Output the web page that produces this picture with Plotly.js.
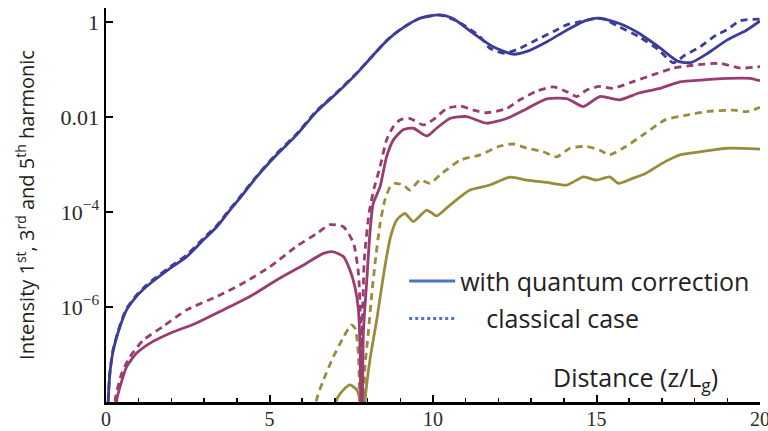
<!DOCTYPE html>
<html><head><meta charset="utf-8">
<script src="https://cdn.plot.ly/plotly-3.0.1.min.js"></script>
<style>html,body{margin:0;padding:0;background:#fff}#chart{width:768px;height:431px}</style>
</head><body><div id="chart"></div>
<script>
// 1st harmonic, with quantum correction
const z1q = [0,0.07,0.12,0.22,0.43,0.63,0.94,1.24,1.55,1.96,2.47,2.98,3.39,3.79,4.05,4.61,5.22,5.83,6.44,7.06,7.67,8.17,8.58,8.99,9.6,10.21,10.6,11.23,11.84,12.45,12.87,13.5,14.1,14.7,15.1,15.7,16.3,16.9,17.5,17.9,18.4,19.0,19.6,20];
const i1q = [1e-10,1.1e-8,4.0e-8,1.2e-7,3.9e-7,8.7e-7,1.7e-6,2.7e-6,4.0e-6,6.5e-6,1.15e-5,2.6e-5,4.9e-5,1.1e-4,1.8e-4,5.5e-4,1.6e-3,4.2e-3,1.3e-2,3.2e-2,8.3e-2,0.2,0.4,0.68,1.2,1.41,1.2,0.58,0.3,0.21,0.24,0.39,0.68,1.1,1.2,0.93,0.58,0.3,0.148,0.141,0.22,0.42,0.68,1.05];
// 1st harmonic, classical
const z1c = [0,0.07,0.12,0.22,0.43,0.63,0.94,1.24,1.55,1.96,2.47,2.98,3.39,3.79,4.05,4.61,5.22,5.83,6.44,7.06,7.67,8.17,8.58,8.99,9.6,10.21,10.6,11.03,11.44,11.74,12.2,12.66,13.07,13.68,14.09,14.5,14.9,15.2,15.7,16.3,16.9,17.35,17.7,18.17,18.67,18.98,19.4,20];
const i1c = [1e-10,1.2e-8,4.3e-8,1.3e-7,4.2e-7,9.3e-7,1.8e-6,2.9e-6,4.3e-6,7.0e-6,1.25e-5,2.8e-5,5.2e-5,1.15e-4,1.9e-4,5.7e-4,1.7e-3,4.4e-3,1.35e-2,3.3e-2,8.5e-2,0.2,0.41,0.69,1.2,1.4,1.15,0.79,0.49,0.28,0.22,0.28,0.39,0.63,0.87,1.02,1.15,1.17,0.79,0.49,0.26,0.138,0.2,0.3,0.54,0.68,1.07,1.15];
// 3rd harmonic, with quantum correction
const z3q = [0.3,0.33,0.43,0.63,0.94,1.35,1.96,2.77,3.59,4.4,5.22,6.03,6.65,6.95,7.26,7.46,7.61,7.72,7.77,7.82,7.87,7.97,8.07,8.17,8.38,8.58,8.79,9.09,9.4,9.81,10.11,10.52,11.03,11.64,12.25,12.87,13.48,14.09,14.6,15.1,15.7,16.3,16.94,17.55,18.2,19.0,19.7,20];
const i3q = [1e-9,1.1e-8,2.1e-8,5.5e-8,1.07e-7,1.74e-7,2.8e-7,4.6e-7,8.7e-7,1.66e-6,3.7e-6,7.6e-6,1.35e-5,1.45e-5,1.15e-5,6.0e-6,2.7e-6,8.7e-7,1.2e-7,1e-10,2.8e-7,3.2e-6,3.5e-5,1.5e-4,3.4e-4,1.45e-3,3.3e-3,5.4e-3,5.8e-3,4.0e-3,5.8e-3,9.3e-3,1.02e-2,7.4e-3,9.3e-3,1.5e-2,2.4e-2,2.45e-2,1.66e-2,2.7e-2,2.3e-2,3.2e-2,4.0e-2,5.5e-2,6.0e-2,6.5e-2,6.5e-2,5.8e-2];
// 3rd harmonic, classical
const z3c = [0.25,0.28,0.48,0.73,1.14,1.75,2.47,3.39,4.2,5.02,5.83,6.44,6.85,7.26,7.57,7.72,7.78,7.81,7.9,8.05,8.2,8.38,8.58,8.79,8.99,9.3,9.7,10.0,10.42,10.83,11.23,11.64,12.25,12.66,13.17,13.68,14.09,14.4,14.7,15.1,15.5,16.1,16.7,17.35,17.96,18.78,19.4,20];
const i3c = [1e-9,1.1e-8,4.0e-8,8.9e-8,2.0e-7,3.9e-7,8.7e-7,1.66e-6,3.2e-6,7.1e-6,1.9e-5,3.5e-5,5.4e-5,4.9e-5,2.2e-5,5.1e-6,6.3e-7,1e-7,1e-5,1e-4,3.2e-4,8.9e-4,3.3e-3,6.3e-3,8.7e-3,9.3e-3,6.8e-3,8.7e-3,1.5e-2,1.7e-2,1.4e-2,1.23e-2,1.5e-2,2.3e-2,3.5e-2,4.3e-2,3.4e-2,2.7e-2,3.7e-2,4.4e-2,4.0e-2,5.5e-2,7.6e-2,0.107,0.123,0.135,0.107,0.115];
// 5th harmonic, with quantum correction
const z5q = [7.0,7.05,7.26,7.46,7.67,7.77,7.8,7.88,7.92,8.07,8.28,8.48,8.69,8.89,9.14,9.4,9.81,10.11,10.52,11.13,11.74,12.35,12.87,13.48,14.09,14.6,15.0,15.4,15.67,16.1,16.5,17.1,17.55,18.2,19.0,20];
const i5q = [1e-9,1.1e-8,1.8e-8,2.3e-8,1.8e-8,1e-8,1e-10,1e-10,1e-8,7.6e-8,5.4e-7,4.4e-6,2.8e-5,6.8e-5,9.3e-5,6.3e-5,1.1e-4,8.3e-5,1.4e-4,2.9e-4,3.7e-4,5.4e-4,4.7e-4,4.2e-4,3.7e-4,5.5e-4,4.7e-4,5.5e-4,4.0e-4,5.1e-4,6.5e-4,1.15e-3,1.6e-3,1.86e-3,2.2e-3,2.1e-3];
// 5th harmonic, classical
const z5c = [6.4,6.44,6.65,6.95,7.26,7.51,7.62,7.72,7.8,7.92,8.02,8.12,8.23,8.38,8.53,8.69,8.84,9.09,9.3,9.6,9.91,10.21,10.83,11.44,12.05,12.46,12.87,13.37,13.78,14.19,14.7,15.1,15.4,15.9,16.5,17.1,17.76,18.37,19.2,19.6,20];
const i5c = [1e-9,1.1e-8,2.9e-8,8.9e-8,2.3e-7,4.2e-7,3.5e-7,1e-7,1e-10,5.5e-8,2.8e-7,1.66e-6,8.5e-6,5.6e-5,1.8e-4,3.4e-4,4.0e-4,3.7e-4,2.9e-4,4.7e-4,4.0e-4,6.0e-4,1.23e-3,1.6e-3,2.45e-3,2.7e-3,2.2e-3,1.86e-3,1.45e-3,2.2e-3,2.4e-3,2.0e-3,1.6e-3,2.4e-3,4.6e-3,8.7e-3,1.1e-2,1.3e-2,1.4e-2,1.3e-2,1.6e-2];

const yTickVals = [1, 0.01, 1e-4, 1e-6];
const yTickText = ['1', '0.01', '10<sup>\u22124</sup>', '10<sup>\u22126</sup>'];
const xTickVals = [0, 5, 10, 15, 20];
const legendNames = ['with quantum correction', '\u00a0\u00a0\u00a0\u00a0classical case'];

const C1 = '#3d3d99', C3 = '#993d71', C5 = '#998c3d', CL = '#4a74c2';
const W = 2.8, DASH = '7px,5px';
function tr(x, y, color, dashed) {
  return {x: x, y: y, type: 'scatter', mode: 'lines', showlegend: false, hoverinfo: 'skip',
    line: {color: color, width: W, dash: dashed ? DASH : 'solid', shape: 'spline', smoothing: 0.6}};
}
const data = [
  tr(z5c, i5c, C5, true), tr(z5q, i5q, C5, false),
  tr(z3c, i3c, C3, true), tr(z3q, i3q, C3, false),
  tr(z1c, i1c, C1, true), tr(z1q, i1q, C1, false),
  {x: [null], y: [null], type: 'scatter', mode: 'lines', name: legendNames[0], legendgroup: 'a',
   line: {color: CL, width: 3}},
  {x: [null], y: [null], type: 'scatter', mode: 'lines', name: legendNames[1], legendgroup: 'b',
   line: {color: CL, width: 3, dash: 'dot'}}
];
const layout = {
  width: 768, height: 431,
  margin: {l: 106, r: 8, t: 8, b: 29},
  paper_bgcolor: '#fff', plot_bgcolor: '#fff',
  showlegend: true,
  legend: {x: 0.456, y: 0.365, xanchor: 'left', yanchor: 'top', bgcolor: 'rgba(0,0,0,0)', itemwidth: 46,
    font: {family: 'Open Sans, sans-serif', size: 25, color: '#222'}, tracegroupgap: 2},
  xaxis: {range: [0, 20], showgrid: false, zeroline: false, showline: true, linecolor: '#000', linewidth: 2.5,
    ticks: 'inside', ticklen: 7, tickwidth: 2, tickcolor: '#000', tickvals: xTickVals, ticklabeloverflow: 'allow',
    ticklabelstandoff: -3,
    minor: {dtick: 1, ticks: 'inside', ticklen: 4, tickwidth: 1.5, tickcolor: '#000', showgrid: false},
    tickfont: {family: 'Liberation Serif, serif', size: 20, color: '#2a2a2a'}, fixedrange: true},
  yaxis: {type: 'log', range: [-8, 0.295], showgrid: false, zeroline: false, showline: true, linecolor: '#000', linewidth: 2.5,
    ticks: 'inside', ticklen: 7, tickwidth: 2, tickcolor: '#000', tickvals: yTickVals, ticktext: yTickText,
    tickfont: {family: 'Liberation Serif, serif', size: 22, color: '#2a2a2a'}, fixedrange: true},
  annotations: [
    {text: 'Intensity 1<sup>st</sup>, 3<sup>rd</sup> and 5<sup>th</sup> harmonic', textangle: -90,
     xref: 'paper', yref: 'paper', x: -0.124, y: 0.5, xanchor: 'center', yanchor: 'middle', showarrow: false,
     font: {family: 'Open Sans, sans-serif', size: 20, color: '#222'}},
    {text: 'Distance (z/L<sub>g</sub>)', xref: 'x', yref: 'paper', x: 16.2, y: 0.06,
     xanchor: 'center', yanchor: 'middle', showarrow: false,
     font: {family: 'Open Sans, sans-serif', size: 25, color: '#222'}}
  ]
};
Plotly.newPlot('chart', data, layout, {staticPlot: true, displayModeBar: false});
</script></body></html>
